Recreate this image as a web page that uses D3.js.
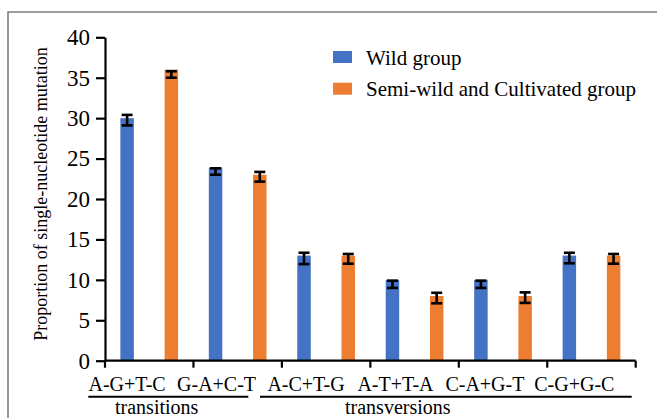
<!DOCTYPE html>
<html>
<head>
<meta charset="utf-8">
<script src="https://cdn.jsdelivr.net/npm/d3@7"></script>
<style>
  body { margin: 0; background: #fff; }
  svg text { font-family: "Times New Roman", Times, "Liberation Serif", "DejaVu Serif", "Noto Serif", serif; }
</style>
</head>
<body>
<svg id="chart" width="657" height="418"></svg>
<script>
// data
var categories = ["A-G+T-C", "G-A+C-T", "A-C+T-G", "A-T+T-A", "C-A+G-T", "C-G+G-C"];
var seriesNames = ["Wild group", "Semi-wild and Cultivated group"];
var wildValues = [30, 23.9, 13, 10, 10, 13];
var semiValues = [36, 23, 13, 8, 8, 13];
var wildErrMid = [29.75, 23.4, 12.65, 9.45, 9.45, 12.7];
var wildErr = [0.65, 0.4, 0.7, 0.45, 0.45, 0.65];
var semiErrMid = [35.4, 22.75, 12.6, 7.75, 7.8, 12.6];
var semiErr = [0.4, 0.6, 0.6, 0.65, 0.65, 0.6];
var yTicks = [0, 5, 10, 15, 20, 25, 30, 35, 40];
var groups = [
  {name: "transitions", from: 0, to: 1},
  {name: "transversions", from: 2, to: 5}
];

var colors = ["#4472c4", "#ed7d31"];
var serif = "'Times New Roman', Times, 'Liberation Serif', 'DejaVu Serif', 'Noto Serif', serif";

var svg = d3.select("#chart");

// frame
svg.append("path")
  .attr("d", "M8,418 L8,12 L657,12")
  .attr("fill", "none")
  .attr("stroke", "#7f7f7f")
  .attr("stroke-width", 1.6);

var x0 = d3.scaleBand().domain(categories).range([105, 635.7]).padding(0);
var x1 = d3.scaleBand().domain([0, 1]).range([0, x0.bandwidth()])
  .paddingInner(0.695).paddingOuter(0.3475);
var y = d3.scaleLinear().domain([0, 40]).range([360.7, 37.3]);

var rows = categories.map(function(c, i){
  return [
    {cat: c, s: 0, v: wildValues[i], m: wildErrMid[i], e: wildErr[i]},
    {cat: c, s: 1, v: semiValues[i], m: semiErrMid[i], e: semiErr[i]}
  ];
});
var flat = d3.merge(rows);

// bars
svg.append("g").selectAll("rect")
  .data(flat)
  .enter()
  .append("rect")
  .attr("x", function(d){ return x0(d.cat) + x1(d.s); })
  .attr("y", function(d){ return y(d.v); })
  .attr("width", x1.bandwidth())
  .attr("height", function(d){ return y(0) - y(d.v); })
  .attr("fill", function(d){ return colors[d.s]; });

// error bars
var eb = svg.append("g").attr("stroke", "#000").attr("stroke-width", 2.6);
flat.forEach(function(d){
  var cx = x0(d.cat) + x1(d.s) + x1.bandwidth() / 2;
  var top = y(d.m + d.e), bot = y(d.m - d.e);
  eb.append("line").attr("x1", cx).attr("x2", cx).attr("y1", top).attr("y2", bot);
  eb.append("line").attr("x1", cx - 5.5).attr("x2", cx + 5.5).attr("y1", top).attr("y2", top);
  eb.append("line").attr("x1", cx - 5.5).attr("x2", cx + 5.5).attr("y1", bot).attr("y2", bot);
});

// y axis
var yAxis = svg.append("g")
  .attr("transform", "translate(105,0)")
  .call(d3.axisLeft(y).tickValues(yTicks).tickSize(9).tickPadding(6).tickSizeOuter(0));
yAxis.attr("font-family", serif);
yAxis.select(".domain").attr("stroke-width", 2.2);
yAxis.selectAll(".tick line").attr("stroke-width", 2.2);
yAxis.selectAll("text").attr("font-size", 23).attr("font-family", serif).attr("fill", "#000");

// x axis line with boundary ticks
var xg = svg.append("g");
xg.append("line")
  .attr("x1", x0.range()[0]).attr("x2", x0.range()[1])
  .attr("y1", y(0)).attr("y2", y(0))
  .attr("stroke", "#000").attr("stroke-width", 2.2);
var bounds = categories.map(function(c){ return x0(c); }).concat([x0.range()[1]]);
xg.selectAll("line.tk")
  .data(bounds)
  .enter()
  .append("line")
  .attr("class", "tk")
  .attr("x1", function(d){ return d; }).attr("x2", function(d){ return d; })
  .attr("y1", y(0)).attr("y2", y(0) + 7)
  .attr("stroke", "#000").attr("stroke-width", 2.2);

// category labels
xg.selectAll("text")
  .data(categories)
  .enter()
  .append("text")
  .attr("x", function(d, i){ return x0(d) + x1(0) + x1.bandwidth() / 2 + i; })
  .attr("y", 390.5)
  .attr("text-anchor", "middle")
  .attr("font-family", serif)
  .attr("font-size", 20)
  .text(function(d){ return d; });

// group underlines and labels
var lineStart = [88.3, 260];
var lineEnd = [248.3, 631.7];
var textStart = [115, 345];
groups.forEach(function(g, i){
  svg.append("line")
    .attr("x1", lineStart[i]).attr("x2", lineEnd[i])
    .attr("y1", 396.7).attr("y2", 396.7)
    .attr("stroke", "#000").attr("stroke-width", 2);
  svg.append("text")
    .attr("x", textStart[i])
    .attr("y", 414)
    .attr("font-family", serif)
    .attr("font-size", 20)
    .text(g.name);
});

// y title
svg.append("text")
  .attr("transform", "translate(47,194) rotate(-90)")
  .attr("text-anchor", "middle")
  .attr("font-family", serif)
  .attr("font-size", 18)
  .text("Proportion of single-nucleotide mutation");

// legend
var leg = svg.append("g").selectAll("g")
  .data(seriesNames)
  .enter()
  .append("g")
  .attr("transform", function(d, i){ return "translate(333," + (51 + i * 31.7) + ")"; });
leg.append("rect").attr("width", 19).attr("height", 12)
  .attr("fill", function(d, i){ return colors[i]; });
leg.append("text").attr("x", 33).attr("y", 13.5)
  .attr("font-family", serif)
  .attr("font-size", 21)
  .text(function(d){ return d; });
</script>
</body>
</html>
